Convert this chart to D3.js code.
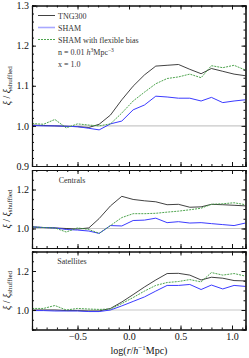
<!DOCTYPE html>
<html>
<head>
<meta charset="utf-8">
<script src="https://cdn.jsdelivr.net/npm/d3@7"></script>
<style>
  body { margin: 0; background: #fff; }
  svg { display: block; font-family: "Liberation Serif", "DejaVu Serif", serif; }
  .axis path, .axis line { stroke: #111; }
  .axis text { font-size: 10px; fill: #111; font-family: "Liberation Serif", serif; }
</style>
</head>
<body>
<svg width="249" height="358"></svg>
<script>
// log(r / h^-1 Mpc) bin centres
var logR = [-0.94, -0.83, -0.72, -0.61, -0.50, -0.39, -0.29, -0.18, -0.07, 0.04,
            0.15, 0.26, 0.37, 0.48, 0.59, 0.70, 0.80, 0.91, 1.02, 1.13];

// all galaxies
var allTNG  = [1.002, 1.001, 1.000, 0.999, 0.998, 0.996, 1.004, 1.027, 1.065, 1.099,
               1.127, 1.149, 1.151, 1.153, 1.141, 1.130, 1.143, 1.136, 1.129, 1.125];
var allSHAM = [1.001, 1.000, 1.000, 0.999, 0.998, 0.994, 0.990, 1.005, 1.012, 1.040,
               1.052, 1.074, 1.072, 1.069, 1.069, 1.062, 1.071, 1.058, 1.062, 1.065];
var allFlex = [1.006, 1.004, 1.016, 0.995, 1.005, 1.002, 1.000, 1.005, 1.032, 1.062,
               1.084, 1.105, 1.118, 1.122, 1.129, 1.120, 1.150, 1.145, 1.151, 1.139];

// centrals
var cenTNG  = [1.008, 1.005, 1.003, 1.000, 0.997, 1.003, 1.051, 1.116, 1.165, 1.149,
               1.142, 1.137, 1.122, 1.124, 1.109, 1.111, 1.124, 1.122, 1.119, 1.116];
var cenSHAM = [1.008, 1.005, 1.003, 0.995, 0.992, 0.987, 0.975, 1.015, 1.013, 1.041,
               1.043, 1.053, 1.030, 1.035, 1.028, 1.030, 1.025, 1.020, 1.015, 1.028];
var cenFlex = [1.008, 1.005, 1.003, 0.982, 1.003, 0.995, 0.975, 1.015, 1.056, 1.076,
               1.076, 1.078, 1.084, 1.089, 1.096, 1.104, 1.124, 1.127, 1.132, 1.122];

// satellites
var satTNG  = [1.000, 1.000, 1.000, 0.997, 0.997, 0.995, 0.995, 1.008, 1.041, 1.079,
               1.118, 1.154, 1.187, 1.188, 1.179, 1.154, 1.168, 1.163, 1.151, 1.149];
var satSHAM = [0.997, 0.997, 0.995, 0.995, 0.995, 0.992, 0.992, 1.000, 1.021, 1.044,
               1.067, 1.097, 1.126, 1.126, 1.131, 1.105, 1.128, 1.108, 1.126, 1.121];
var satFlex = [1.008, 1.008, 1.023, 1.000, 1.008, 1.005, 1.003, 1.005, 1.033, 1.064,
               1.097, 1.126, 1.141, 1.146, 1.156, 1.144, 1.192, 1.179, 1.187, 1.174];

var xTicks = [-0.5, 0.0, 0.5, 1.0];
var seriesNames = ["TNG300", "SHAM", "SHAM with flexible bias"];

var svg = d3.select("svg");

var x = d3.scaleLinear().domain([-0.942, 1.131]).range([32, 245.5]);

var panels = [
  { top: 5.5,  bottom: 166,   yTicks: [0.9, 1.0, 1.1, 1.2, 1.3], minor: 0.02, label: null,
    series: [allTNG, allSHAM, allFlex] },
  { top: 170,  bottom: 248,   yTicks: [1.0, 1.2], minor: 0.05, label: "Centrals",
    series: [cenTNG, cenSHAM, cenFlex] },
  { top: 251.5, bottom: 329.5, yTicks: [1.0, 1.2], minor: 0.05, label: "Satellites",
    series: [satTNG, satSHAM, satFlex] }
];

var styles = [
  { color: "#111", width: 0.8, dash: null },
  { color: "#3b3bff", width: 1, dash: null },
  { color: "#3a9a3a", width: 0.9, dash: "2,1" }
];

function range(a, b, step) {
  var out = [];
  for (var v = a; v <= b + 1e-9; v += step) out.push(+v.toFixed(4));
  return out;
}

var xMinor = range(-0.9, 1.1, 0.1);

panels.forEach(function(p, i) {
  var y = d3.scaleLinear().domain([0.9, 1.3]).range([p.bottom, p.top]);
  var g = svg.append("g");
  var yMinor = range(0.9, 1.3, p.minor);

  // reference line at 1
  g.append("line")
    .attr("x1", x.range()[0]).attr("x2", x.range()[1])
    .attr("y1", y(1)).attr("y2", y(1))
    .attr("stroke", "#c8c8c8").attr("stroke-width", 1.2);

  // curves
  var line = d3.line()
    .x(function(d, j) { return x(logR[j]); })
    .y(function(d) { return y(d); });

  p.series.forEach(function(s, k) {
    g.append("path")
      .datum(s)
      .attr("d", line)
      .attr("fill", "none")
      .attr("stroke", styles[k].color)
      .attr("stroke-width", styles[k].width)
      .attr("stroke-dasharray", styles[k].dash);
  });

  // axes, ticks pointing inward on all sides
  var last = i === panels.length - 1;
  var bottomAx = d3.axisBottom(x).tickValues(xTicks).tickSize(-4).tickPadding(3)
    .tickFormat(last ? d3.format(".1f") : "");
  g.append("g").attr("class", "axis").attr("transform", "translate(0," + p.bottom + ")")
    .call(bottomAx);
  g.append("g").attr("class", "axis").attr("transform", "translate(0," + p.bottom + ")")
    .call(d3.axisBottom(x).tickValues(xMinor).tickSize(-2).tickFormat(""));
  g.append("g").attr("class", "axis").attr("transform", "translate(0," + p.top + ")")
    .call(d3.axisTop(x).tickValues(xTicks).tickSize(-4).tickFormat(""));
  g.append("g").attr("class", "axis").attr("transform", "translate(0," + p.top + ")")
    .call(d3.axisTop(x).tickValues(xMinor).tickSize(-2).tickFormat(""));

  g.append("g").attr("class", "axis").attr("transform", "translate(" + x.range()[0] + ",0)")
    .call(d3.axisLeft(y).tickValues(p.yTicks).tickSize(-4).tickPadding(3).tickFormat(d3.format(".1f")));
  g.append("g").attr("class", "axis").attr("transform", "translate(" + x.range()[0] + ",0)")
    .call(d3.axisLeft(y).tickValues(yMinor).tickSize(-2).tickFormat(""));
  g.append("g").attr("class", "axis").attr("transform", "translate(" + x.range()[1] + ",0)")
    .call(d3.axisRight(y).tickValues(p.yTicks).tickSize(-4).tickFormat(""));
  g.append("g").attr("class", "axis").attr("transform", "translate(" + x.range()[1] + ",0)")
    .call(d3.axisRight(y).tickValues(yMinor).tickSize(-2).tickFormat(""));

  g.selectAll(".axis .domain").attr("stroke-width", 1.1);

  // y label
  var yl = g.append("text")
    .attr("transform", "translate(10," + ((p.top + p.bottom) / 2) + ") rotate(-90)")
    .attr("text-anchor", "middle")
    .attr("font-size", 10)
    .attr("fill", "#111");
  yl.append("tspan").attr("font-style", "italic").text("ξ");
  yl.append("tspan").text(" / ");
  yl.append("tspan").attr("font-style", "italic").text("ξ");
  yl.append("tspan").attr("font-size", 7).attr("dy", 2).text("shuffled");

  if (p.label) {
    g.append("text")
      .attr("x", 72).attr("y", p.top + 12.5)
      .attr("text-anchor", "middle")
      .attr("font-size", 8)
      .attr("fill", "#333")
      .text(p.label);
  }
});

// legend
var leg = svg.append("g");
seriesNames.forEach(function(name, k) {
  var ly = 15.5 + k * 12;
  leg.append("line")
    .attr("x1", 38).attr("x2", 55).attr("y1", ly).attr("y2", ly)
    .attr("stroke", k === 1 ? "#a8a8ff" : styles[k].color)
    .attr("stroke-width", k === 1 ? 1.6 : styles[k].width)
    .attr("stroke-dasharray", styles[k].dash);
  leg.append("text")
    .attr("x", 58).attr("y", ly + 3)
    .attr("font-size", 8).attr("fill", "#333")
    .text(name);
});

var nText = leg.append("text").attr("x", 58).attr("y", 54.5).attr("font-size", 8).attr("fill", "#333");
nText.append("tspan").text("n = 0.01 ");
nText.append("tspan").attr("font-style", "italic").text("h");
nText.append("tspan").attr("font-size", 5.5).attr("dy", -3).text("3");
nText.append("tspan").attr("dy", 3).text("Mpc");
nText.append("tspan").attr("font-size", 5.5).attr("dy", -3).text("−3");

leg.append("text").attr("x", 58).attr("y", 66.5).attr("font-size", 8).attr("fill", "#333")
  .text("x = 1.0");

// x axis title
var xt = svg.append("text")
  .attr("x", 139).attr("y", 354)
  .attr("text-anchor", "middle")
  .attr("font-size", 10)
  .attr("fill", "#111");
xt.append("tspan").text("log(");
xt.append("tspan").attr("font-style", "italic").text("r");
xt.append("tspan").text("/");
xt.append("tspan").attr("font-style", "italic").text("h");
xt.append("tspan").attr("font-size", 7).attr("dy", -4).text("−1");
xt.append("tspan").attr("dy", 4).text("Mpc)");
</script>
</body>
</html>
